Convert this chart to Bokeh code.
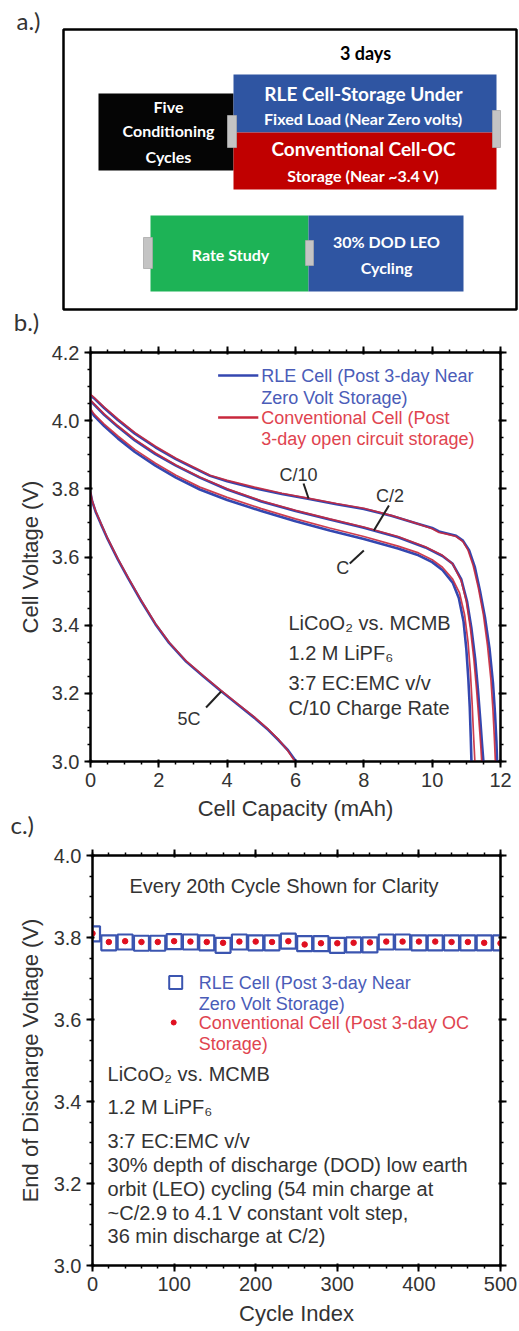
from bokeh.plotting import figure
from bokeh.layouts import column
from bokeh.models import (Range1d, LinearAxis, SingleIntervalTicker, NumeralTickFormatter,
                          CustomJSTickFormatter, Title)
from bokeh.core.properties import value
from bokeh.embed import file_html
from bokeh.resources import INLINE

# ---------------- Panel b data: discharge curves ----------------
cap_c10_rle = [0, 0.1, 0.4, 0.8, 1.3, 1.9, 2.5, 3.0, 3.5, 4.0, 4.8, 5.6, 6.4, 7.2, 8.0, 8.8, 9.5, 10.0, 10.2, 10.4, 10.7, 10.9, 11.08, 11.25, 11.4, 11.55, 11.68, 11.78, 11.84, 11.88, 11.9]
v_c10_rle = [4.075, 4.066, 4.037, 4.002, 3.962, 3.922, 3.887, 3.862, 3.838, 3.822, 3.802, 3.785, 3.770, 3.755, 3.741, 3.721, 3.700, 3.685, 3.675, 3.670, 3.662, 3.648, 3.62, 3.57, 3.50, 3.42, 3.33, 3.23, 3.14, 3.06, 3.0]
cap_c10_conv = [0, 0.1, 0.4, 0.8, 1.3, 1.9, 2.5, 3.0, 3.5, 4.0, 4.8, 5.6, 6.4, 7.2, 8.0, 8.8, 9.5, 10.0, 10.2, 10.4, 10.7, 10.9, 11.05, 11.2, 11.35, 11.5, 11.62, 11.72, 11.78, 11.82, 11.85]
v_c10_conv = [4.077, 4.068, 4.04, 4.005, 3.965, 3.925, 3.89, 3.865, 3.84, 3.825, 3.805, 3.787, 3.772, 3.757, 3.743, 3.722, 3.70, 3.683, 3.672, 3.668, 3.66, 3.645, 3.62, 3.575, 3.51, 3.43, 3.34, 3.24, 3.15, 3.07, 3.0]

cap_c2_rle = [0, 0.1, 0.4, 0.8, 1.3, 1.9, 2.5, 3.2, 4.0, 5.0, 6.0, 7.0, 8.0, 9.0, 9.8, 10.3, 10.6, 10.85, 11.02, 11.15, 11.26, 11.34, 11.41, 11.46, 11.5]
v_c2_rle = [4.058, 4.048, 4.017, 3.982, 3.942, 3.902, 3.868, 3.833, 3.798, 3.763, 3.735, 3.71, 3.686, 3.658, 3.628, 3.603, 3.58, 3.535, 3.47, 3.39, 3.30, 3.21, 3.12, 3.05, 3.0]
cap_c2_conv = [0, 0.1, 0.4, 0.8, 1.3, 1.9, 2.5, 3.2, 4.0, 5.0, 6.0, 7.0, 8.0, 9.0, 9.8, 10.3, 10.6, 10.85, 11.0, 11.12, 11.22, 11.3, 11.37, 11.42, 11.45]
v_c2_conv = [4.06, 4.05, 4.02, 3.985, 3.945, 3.905, 3.87, 3.835, 3.80, 3.765, 3.737, 3.712, 3.688, 3.66, 3.63, 3.605, 3.58, 3.53, 3.47, 3.39, 3.30, 3.21, 3.12, 3.05, 3.0]

cap_c1_rle = [0, 0.1, 0.4, 0.8, 1.3, 1.9, 2.5, 3.2, 4.0, 5.0, 6.0, 7.0, 8.0, 9.0, 9.6, 10.0, 10.3, 10.6, 10.78, 10.92, 11.0, 11.06, 11.1, 11.13, 11.15]
v_c1_rle = [4.03, 4.015, 3.984, 3.948, 3.908, 3.868, 3.833, 3.798, 3.767, 3.735, 3.705, 3.678, 3.653, 3.625, 3.605, 3.585, 3.562, 3.525, 3.48, 3.41, 3.33, 3.24, 3.16, 3.07, 3.0]
cap_c1_conv = [0, 0.1, 0.4, 0.8, 1.3, 1.9, 2.5, 3.2, 4.0, 5.0, 6.0, 7.0, 8.0, 9.0, 9.6, 10.0, 10.3, 10.6, 10.8, 10.95, 11.05, 11.12, 11.17, 11.21, 11.25]
v_c1_conv = [4.035, 4.02, 3.99, 3.955, 3.915, 3.875, 3.84, 3.805, 3.775, 3.742, 3.712, 3.685, 3.66, 3.632, 3.612, 3.592, 3.57, 3.535, 3.495, 3.43, 3.35, 3.26, 3.17, 3.08, 3.0]

cap_5c_rle = [0, 0.05, 0.15, 0.3, 0.5, 0.8, 1.1, 1.5, 1.9, 2.3, 2.8, 3.3, 3.8, 4.3, 4.8, 5.2, 5.5, 5.78, 5.98, 6.03]
v_5c_rle = [3.788, 3.763, 3.733, 3.698, 3.653, 3.593, 3.538, 3.468, 3.403, 3.348, 3.293, 3.25, 3.208, 3.168, 3.128, 3.093, 3.063, 3.033, 3.005, 3.0]
cap_5c_conv = [0, 0.05, 0.15, 0.3, 0.5, 0.8, 1.1, 1.5, 1.9, 2.3, 2.8, 3.3, 3.8, 4.3, 4.8, 5.2, 5.5, 5.75, 5.95, 6.0]
v_5c_conv = [3.79, 3.765, 3.735, 3.70, 3.655, 3.595, 3.54, 3.47, 3.405, 3.35, 3.295, 3.252, 3.21, 3.17, 3.13, 3.095, 3.065, 3.035, 3.005, 3.0]

b_x_ticks_interval = 2
b_y_ticks_interval = 0.2

# ---------------- Panel c data: end of discharge voltage ----------------
cycles = [0, 20, 40, 60, 80, 100, 120, 140, 160, 180, 200, 220, 240, 260, 280, 300, 320, 340, 360, 380, 400, 420, 440, 460, 480, 500]
eodv_rle = [3.809, 3.787, 3.789, 3.786, 3.786, 3.790, 3.789, 3.787, 3.781, 3.789, 3.787, 3.787, 3.791, 3.785, 3.785, 3.781, 3.782, 3.782, 3.789, 3.789, 3.787, 3.787, 3.787, 3.787, 3.787, 3.787]
eodv_conv = [3.810, 3.789, 3.791, 3.789, 3.789, 3.791, 3.790, 3.789, 3.787, 3.790, 3.790, 3.789, 3.791, 3.783, 3.786, 3.786, 3.787, 3.788, 3.790, 3.790, 3.790, 3.790, 3.789, 3.789, 3.787, 3.786]

BLUE = "#3447b0"
RED = "#c8283c"
TXT = "#333333"
FONT = "Liberation Sans"

W = 519
HA, HB, HC = 335, 503, 493

# ================= Panel a: test protocol diagram =================
pa = figure(width=W, height=HA, x_range=Range1d(0, W), y_range=Range1d(HA, 0),
            output_backend="svg", toolbar_location=None,
            x_axis_location=None, y_axis_location=None, min_border=0)
pa.frame_align = False
pa.outline_line_color = None
pa.grid.visible = False

box_left = [98, 233, 233, 150, 308]
box_right = [233, 496, 496, 308, 463]
box_top = [93, 74, 132, 215, 215]
box_bottom = [170, 132, 189, 291, 291]
box_color = ["#050505", "#2f55a2", "#c00000", "#1db356", "#2f55a2"]
pa.quad(left=box_left, right=box_right, top=box_top, bottom=box_bottom,
        fill_color=box_color, line_color=None)
# connector tabs
pa.quad(left=[227, 492, 143, 305], right=[236, 500, 152, 313],
        top=[115, 110, 237, 240], bottom=[147, 147, 268, 265],
        fill_color="#c4c4c4", line_color="#aaaaaa", line_width=0.8)
# outer frame
pa.quad(left=[63], right=[516], top=[29], bottom=[309], fill_color=None,
        line_color="black", line_width=2.5)

a_texts = ["Five", "Conditioning", "Cycles", "RLE Cell-Storage Under", "Fixed Load (Near Zero volts)",
           "Conventional Cell-OC", "Storage (Near ~3.4 V)", "Rate Study", "30% DOD LEO", "Cycling"]
a_x = [168, 168, 168, 363, 363, 363, 363, 230, 386, 386]
a_y = [106, 130, 156, 93, 118, 148, 175, 254, 241, 267]
a_size = ["16px", "16px", "16px", "19px", "16px", "19px", "16px", "16px", "16px", "16px"]
pa.text(x=a_x, y=a_y, text=a_texts, text_font_size=a_size, text_font=value("Lato"),
        text_font_style="bold", text_color="white", text_align="center", text_baseline="middle")
pa.text(x=[365], y=[52], text=["3 days"], text_font=value("Lato"), text_font_style="bold",
        text_font_size="18px", text_color="black", text_align="center", text_baseline="middle")
pa.text(x=[28, 26], y=[20, 321], text=["a.)", "b.)"], text_font=value("Lato"), text_font_size="24px",
        text_color=TXT, text_align="center", text_baseline="middle")


def style_axis(ax, labels=True):
    ax.axis_line_width = 2
    ax.axis_line_color = "black"
    ax.major_tick_line_width = 2
    ax.major_tick_line_color = "black"
    ax.major_tick_in = 2
    ax.major_tick_out = 6
    ax.minor_tick_line_width = 1.5
    ax.minor_tick_line_color = "black"
    ax.minor_tick_in = 0
    ax.minor_tick_out = 3
    ax.major_label_text_font = FONT
    ax.major_label_text_font_size = "20px"
    ax.major_label_text_color = TXT
    ax.axis_label_text_font = FONT
    ax.axis_label_text_font_size = "22px"
    ax.axis_label_text_font_style = "normal"
    ax.axis_label_text_color = TXT
    if not labels:
        ax.formatter = CustomJSTickFormatter(code="return ''")
        ax.major_label_standoff = 0


# ================= Panel b: discharge curves =================
pb = figure(width=W, height=HB, x_range=Range1d(0, 12), y_range=Range1d(3.0, 4.2),
            output_backend="svg", toolbar_location=None,
            min_border_left=90, min_border_right=19, min_border_top=17, min_border_bottom=77)
pb.frame_align = False
pb.grid.visible = False
pb.outline_line_color = "black"
pb.outline_line_width = 2
pb.xaxis.ticker = SingleIntervalTicker(interval=b_x_ticks_interval, num_minor_ticks=4)
pb.yaxis.ticker = SingleIntervalTicker(interval=b_y_ticks_interval, num_minor_ticks=4)
pb.xaxis.formatter = NumeralTickFormatter(format="0")
pb.yaxis.formatter = NumeralTickFormatter(format="0.0")
pb.xaxis.axis_label = "Cell Capacity (mAh)"
pb.yaxis.axis_label = "Cell Voltage (V)"
style_axis(pb.xaxis[0])
style_axis(pb.yaxis[0])
pb.xaxis.major_label_standoff = 5
pb.xaxis.axis_label_standoff = 6
pb.yaxis.major_label_standoff = 5
pb.yaxis.axis_label_standoff = 6
top_b = LinearAxis(ticker=SingleIntervalTicker(interval=b_x_ticks_interval, num_minor_ticks=4))
right_b = LinearAxis(ticker=SingleIntervalTicker(interval=b_y_ticks_interval, num_minor_ticks=4))
style_axis(top_b, labels=False)
style_axis(right_b, labels=False)
pb.add_layout(top_b, "above")
pb.add_layout(right_b, "right")

title_c = Title(text="c.)", text_font="Lato", text_font_size="24px", text_font_style="normal",
                text_color=TXT, align="left", offset=-80, standoff=-30, vertical_align="middle")
pb.add_layout(title_c, "below")

rle_curves = [(cap_c10_rle, v_c10_rle), (cap_c2_rle, v_c2_rle), (cap_c1_rle, v_c1_rle), (cap_5c_rle, v_5c_rle)]
conv_curves = [(cap_c10_conv, v_c10_conv), (cap_c2_conv, v_c2_conv), (cap_c1_conv, v_c1_conv), (cap_5c_conv, v_5c_conv)]
for cx, vy in rle_curves:
    pb.line(cx, vy, line_color=BLUE, line_width=2.6)
for cx, vy in conv_curves:
    pb.line(cx, vy, line_color=RED, line_width=1.7, line_alpha=0.9)


def bx(px):
    return (px - 90) / 408 * 12


def by(py):
    return 4.2 - (py - 352) / 409 * 1.2


# legend (b)
pb.segment(x0=[bx(217), bx(217)], y0=[by(375), by(417)], x1=[bx(257), bx(257)], y1=[by(375), by(417)],
           line_color=[BLUE, RED], line_width=2.5)
pb.text(x=[bx(260)] * 4, y=[by(375), by(397), by(417), by(438)],
        text=["RLE Cell (Post 3-day Near", "Zero Volt Storage)", "Conventional Cell (Post",
              "3-day open circuit storage)"],
        text_color=["#4a5cb8", "#4a5cb8", "#e0444f", "#e0444f"], text_font=value(FONT),
        text_font_size="18px", text_baseline="middle")
# rate labels and leaders
pb.text(x=[bx(297), bx(388), bx(341), bx(188)], y=[by(474), by(495), by(567), by(718)],
        text=["C/10", "C/2", "C", "5C"], text_color=TXT, text_font=value(FONT),
        text_font_size="18px", text_align="center", text_baseline="middle")
pb.segment(x0=[bx(302), bx(387), bx(348), bx(205)], y0=[by(483), by(505), by(563), by(707)],
           x1=[bx(307), bx(372), bx(362), bx(220)], y1=[by(498), by(530), by(550), by(691)],
           line_color="#222222", line_width=2)
pb.text(x=[bx(287)] * 4, y=[by(622), by(652), by(682), by(707)],
        text=["LiCoO\u2082 vs. MCMB", "1.2 M LiPF\u2086", "3:7 EC:EMC v/v", "C/10 Charge Rate"],
        text_color=TXT, text_font=value(FONT), text_font_size="20px", text_baseline="middle")

# ================= Panel c: LEO cycling =================
pc = figure(width=W, height=HC, x_range=Range1d(0, 500), y_range=Range1d(3.0, 4.0),
            output_backend="svg", toolbar_location=None,
            min_border_left=92, min_border_right=19, min_border_top=17, min_border_bottom=66)
pc.frame_align = False
pc.grid.visible = False
pc.outline_line_color = "black"
pc.outline_line_width = 2
pc.xaxis.ticker = SingleIntervalTicker(interval=100, num_minor_ticks=5)
pc.yaxis.ticker = SingleIntervalTicker(interval=0.2, num_minor_ticks=4)
pc.xaxis.formatter = NumeralTickFormatter(format="0")
pc.yaxis.formatter = NumeralTickFormatter(format="0.0")
pc.xaxis.axis_label = "Cycle Index"
pc.yaxis.axis_label = "End of Discharge Voltage (V)"
style_axis(pc.xaxis[0])
style_axis(pc.yaxis[0])
pc.xaxis.major_label_standoff = 5
pc.xaxis.axis_label_standoff = 7
pc.yaxis.major_label_standoff = 5
pc.yaxis.axis_label_standoff = 8
top_c = LinearAxis(ticker=SingleIntervalTicker(interval=100, num_minor_ticks=5))
right_c = LinearAxis(ticker=SingleIntervalTicker(interval=0.2, num_minor_ticks=4))
style_axis(top_c, labels=False)
style_axis(right_c, labels=False)
pc.add_layout(top_c, "above")
pc.add_layout(right_c, "right")

pc.scatter(cycles, eodv_rle, marker="square", size=15, fill_color=None, line_color="#3b55b0", line_width=2.2)
pc.scatter(cycles, eodv_conv, marker="circle", size=5.5, fill_color="#e01020", line_color="#e01020")


def cx_(px):
    return (px - 92) / 407 * 500


def cy_(py):
    return 4.0 - (py - 855) / 410 * 1.0


pc.text(x=[cx_(283)], y=[cy_(885)], text=["Every 20th Cycle Shown for Clarity"], text_color=TXT,
        text_font=value(FONT), text_font_size="20px", text_align="center", text_baseline="middle")
pc.scatter([cx_(175)], [cy_(982)], marker="square", size=13, fill_color=None, line_color="#3b55b0", line_width=2)
pc.scatter([cx_(173)], [cy_(1022)], marker="circle", size=5, fill_color="#e01020", line_color="#e01020")
pc.text(x=[cx_(198)] * 4, y=[cy_(982), cy_(1003), cy_(1022), cy_(1043)],
        text=["RLE Cell (Post 3-day Near", "Zero Volt Storage)", "Conventional Cell (Post 3-day OC", "Storage)"],
        text_color=["#4a5cb8", "#4a5cb8", "#e0444f", "#e0444f"], text_font=value(FONT),
        text_font_size="18px", text_baseline="middle")
pc.text(x=[cx_(107)] * 7,
        y=[cy_(1073), cy_(1106), cy_(1140), cy_(1164), cy_(1188), cy_(1212), cy_(1235)],
        text=["LiCoO\u2082 vs. MCMB", "1.2 M LiPF\u2086", "3:7 EC:EMC v/v",
              "30% depth of discharge (DOD) low earth",
              "orbit (LEO) cycling (54 min charge at",
              "~C/2.9 to 4.1 V constant volt step,",
              "36 min discharge at C/2)"],
        text_color=TXT, text_font=value(FONT), text_font_size="20px", text_baseline="middle")

layout = column(pa, pb, pc, spacing=0)
open("out.html", "w").write(file_html(layout, INLINE))
